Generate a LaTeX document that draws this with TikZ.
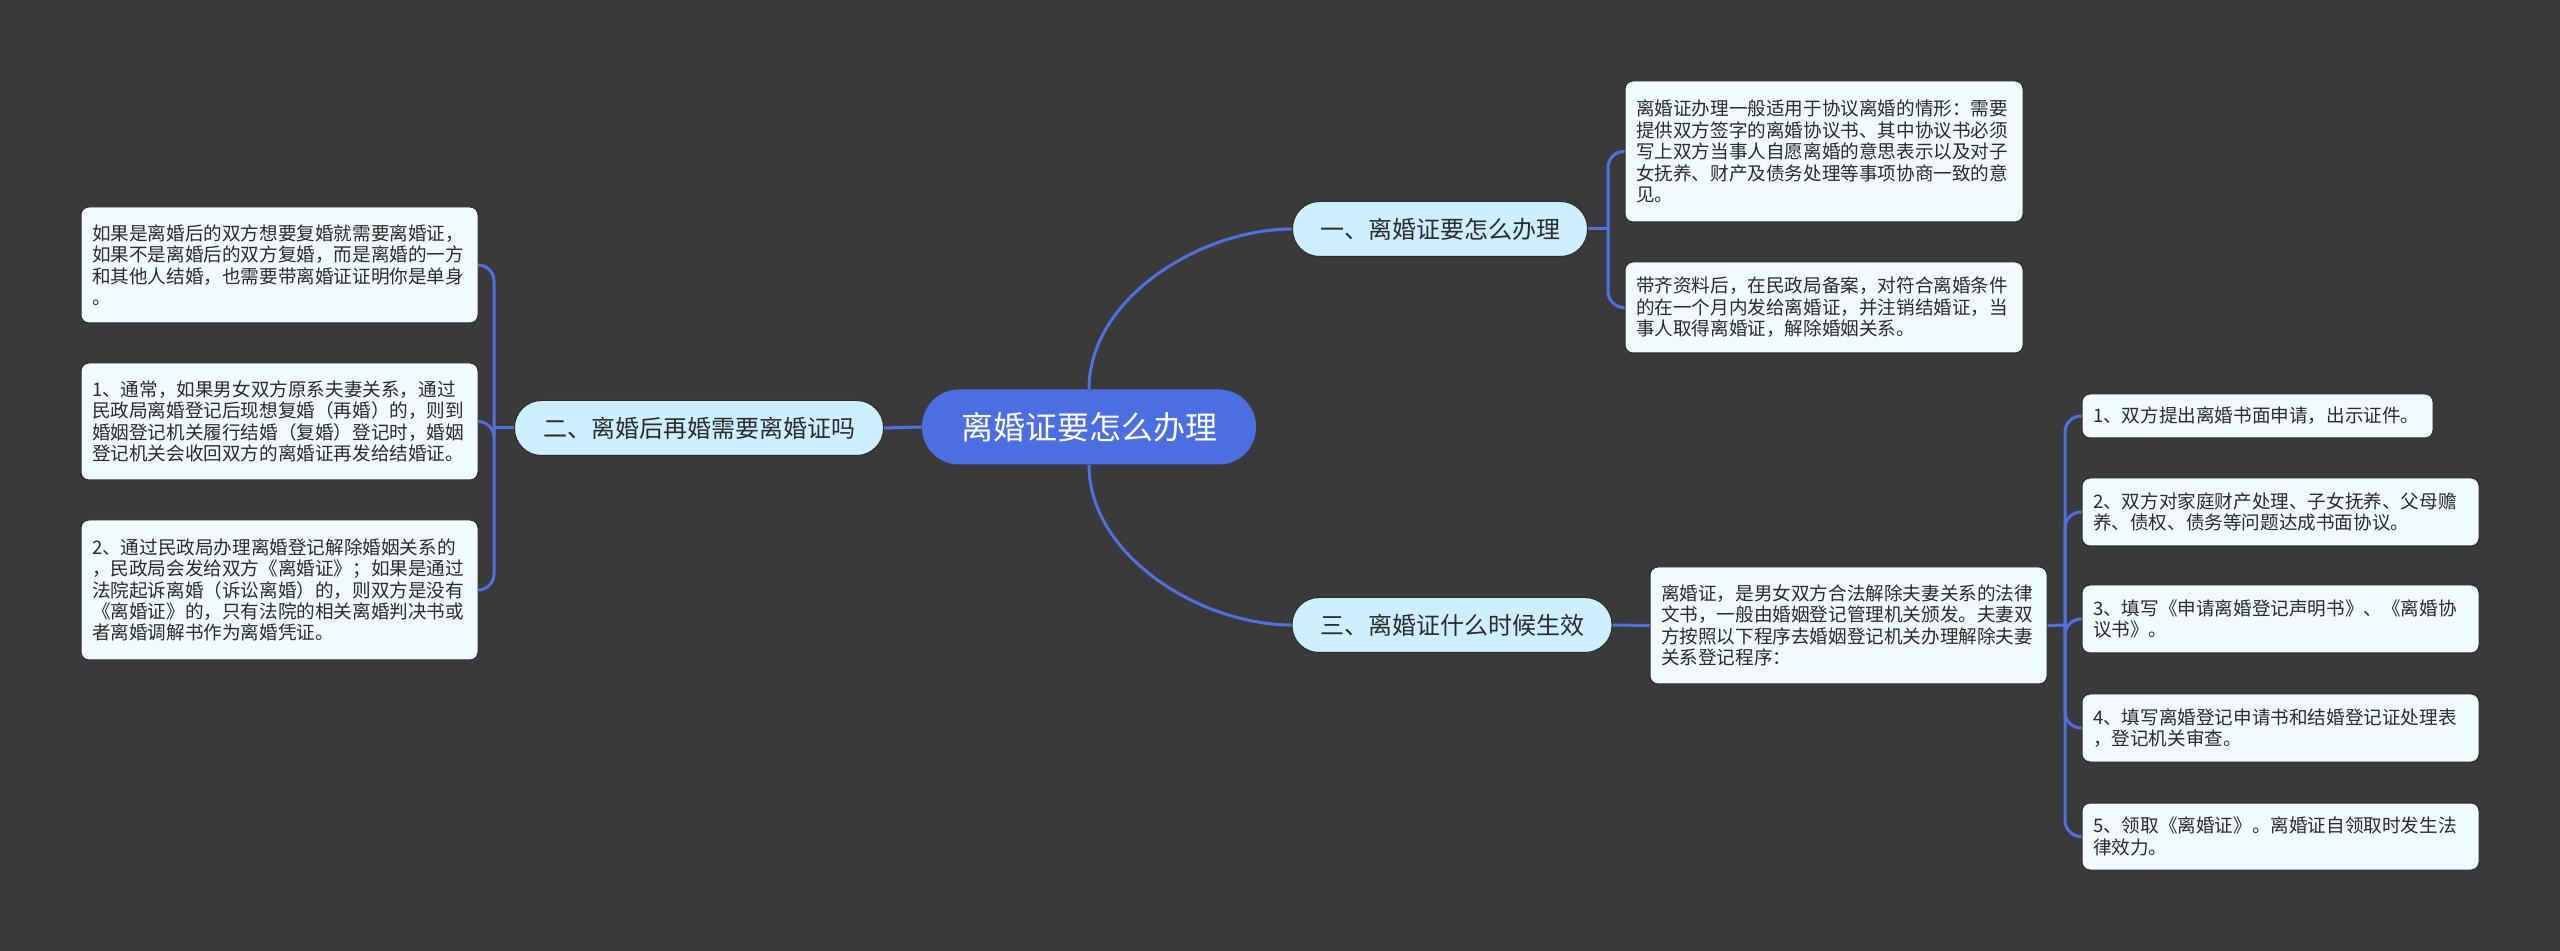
\documentclass[tikz,border=0pt]{standalone}
\usepackage{fontspec}
\setmainfont{Noto Sans CJK SC}
\definecolor{bgc}{HTML}{3A3A3A}
\definecolor{linec}{HTML}{5070E2}
\definecolor{rootc}{HTML}{4B6FE0}
\definecolor{topicc}{HTML}{CDEFFD}
\definecolor{leafc}{HTML}{F0FBFF}
\definecolor{leafline}{HTML}{2A2A2A}
\definecolor{txtc}{HTML}{2B2B2B}
\newcommand\mmleaf{\fontsize{9.3}{10.7}\selectfont}
\newcommand\mmtopic{\fontsize{12}{14}\selectfont}
\newcommand\mmroot{\fontsize{16}{19}\selectfont}
\tikzset{
  leafbox/.style={rectangle, rounded corners=4pt, fill=leafc, draw=leafline, line width=0.5pt,
    inner xsep=5.5pt, inner ysep=0pt, align=left, font=\mmleaf, text=txtc, anchor=center},
  topicbox/.style={rectangle, rounded corners=13.5pt, fill=topicc, draw=leafline, line width=0.5pt,
    inner sep=0pt, font=\mmtopic, text=txtc, minimum height=27.5pt, anchor=center},
  rootbox/.style={rectangle, rounded corners=18.5pt, fill=rootc, inner sep=0pt,
    font=\mmroot, text=white, minimum height=37.5pt, minimum width=167pt, anchor=center},
  conn/.style={draw=linec, line width=1.5pt},
  bconn/.style={conn, rounded corners=8pt}
}
\begin{document}
\begin{tikzpicture}[x=0.5pt,y=-0.5pt]
\useasboundingbox[fill=bgc] (0,0) rectangle (2560,951);

% junction points
\coordinate (j1) at (1608,229);
\coordinate (j2) at (494,428);
\coordinate (j3) at (2065,625);

% root and topics
\node[rootbox] (root) at (1089,427) {离婚证要怎么办理};
\node[topicbox, minimum width=147.5pt] (t1) at (1440,229) {一、离婚证要怎么办理};
\node[topicbox, minimum width=184.5pt] (t2) at (699,428) {二、离婚后再婚需要离婚证吗};
\node[topicbox, minimum width=160pt] (t3) at (1452,625) {三、离婚证什么时候生效};

% leaves of topic 1
\node[leafbox, text width=188pt, minimum height=70.5pt] (l1a) at (1824,151.5)
 {离婚证办理一般适用于协议离婚的情形：需要\\提供双方签字的离婚协议书、其中协议书必须\\写上双方当事人自愿离婚的意思表示以及对子\\女抚养、财产及债务处理等事项协商一致的意\\见。};
\node[leafbox, text width=188pt, minimum height=45.5pt] (l1b) at (1824,307.5)
 {带齐资料后，在民政局备案，对符合离婚条件\\的在一个月内发给离婚证，并注销结婚证，当\\事人取得离婚证，解除婚姻关系。};

% leaves of topic 2
\node[leafbox, text width=187.5pt, minimum height=58pt] (l2a) at (279.5,265)
 {如果是离婚后的双方想要复婚就需要离婚证，\\如果不是离婚后的双方复婚，而是离婚的一方\\和其他人结婚，也需要带离婚证证明你是单身\\。};
\node[leafbox, text width=187.5pt, minimum height=58.5pt] (l2b) at (279.5,421.5)
 {1、通常，如果男女双方原系夫妻关系，通过\\民政局离婚登记后现想复婚（再婚）的，则到\\婚姻登记机关履行结婚（复婚）登记时，婚姻\\登记机关会收回双方的离婚证再发给结婚证。};
\node[leafbox, text width=187.5pt, minimum height=70pt] (l2c) at (279.5,590)
 {2、通过民政局办理离婚登记解除婚姻关系的\\，民政局会发给双方《离婚证》；如果是通过\\法院起诉离婚（诉讼离婚）的，则双方是没有\\《离婚证》的，只有法院的相关离婚判决书或\\者离婚调解书作为离婚凭证。};

% leaf of topic 3
\node[leafbox, text width=187.5pt, minimum height=58.5pt] (l3) at (1848.5,625.5)
 {离婚证，是男女双方合法解除夫妻关系的法律\\文书，一般由婚姻登记管理机关颁发。夫妻双\\方按照以下程序去婚姻登记机关办理解除夫妻\\关系登记程序：};

% steps
\node[leafbox, text width=164.5pt, minimum height=22pt] (s1) at (2257.5,416)
 {1、双方提出离婚书面申请，出示证件。};
\node[leafbox, text width=187.5pt, minimum height=34pt] (s2) at (2280.5,512)
 {2、双方对家庭财产处理、子女抚养、父母赡\\养、债权、债务等问题达成书面协议。};
\node[leafbox, text width=187.5pt, minimum height=34pt] (s3) at (2280.5,619)
 {3、填写《申请离婚登记声明书》、《离婚协\\议书》。};
\node[leafbox, text width=187.5pt, minimum height=34pt] (s4) at (2280.5,728)
 {4、填写离婚登记申请书和结婚登记证处理表\\，登记机关审查。};
\node[leafbox, text width=187.5pt, minimum height=33.5pt] (s5) at (2280.5,836.5)
 {5、领取《离婚证》。离婚证自领取时发生法\\律效力。};

% connectors
\draw[conn] (root.north) to[out=90,in=180,looseness=0.9] (t1.west);
\draw[conn] (root.south) to[out=-90,in=180,looseness=0.9] (t3.west);
\draw[conn] (root.west) -- (t2.east);
\draw[conn] (t3.east) -- (l3.west);

\draw[conn] (t1.east) -- (j1);
\draw[bconn] (j1) |- (l1a.west);
\draw[bconn] (j1) |- (l1b.west);

\draw[conn] (t2.west) -- (j2);
\draw[bconn] (j2) |- (l2a.east);
\draw[bconn] (j2) |- (l2b.east);
\draw[bconn] (j2) |- (l2c.east);

\draw[conn] (l3.east) -- (j3);
\draw[bconn] (j3) |- (s1.west);
\draw[bconn] (j3) |- (s2.west);
\draw[bconn] (j3) |- (s3.west);
\draw[bconn] (j3) |- (s4.west);
\draw[bconn] (j3) |- (s5.west);
\end{tikzpicture}
\end{document}
